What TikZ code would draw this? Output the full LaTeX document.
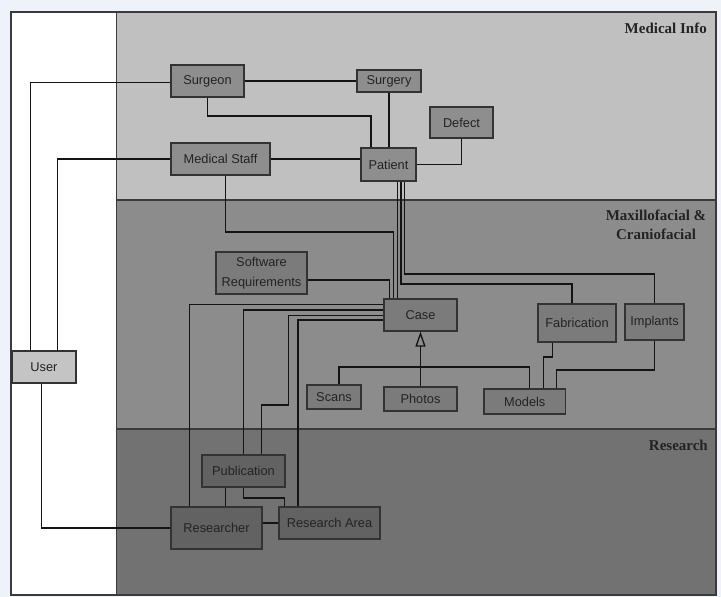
\documentclass[tikz,border=0pt]{standalone}
\usepackage{fontspec}
\setmainfont{Liberation Sans}
\newfontfamily\labfont{Liberation Serif}
\usetikzlibrary{arrows.meta,calc}
\definecolor{bgc}{HTML}{EEF2F9}
\definecolor{medp}{HTML}{C0C0C0}
\definecolor{maxp}{HTML}{8C8C8C}
\definecolor{resp}{HTML}{727272}
\definecolor{medn}{HTML}{8E8E8E}
\definecolor{maxn}{HTML}{7B7B7B}
\definecolor{resn}{HTML}{626262}
\definecolor{usern}{HTML}{C4C4C4}
\definecolor{boxline}{HTML}{333333}
\definecolor{linec}{HTML}{141414}
\definecolor{txt}{HTML}{232323}
\definecolor{framec}{HTML}{3A3A3A}
\begin{document}
\begin{tikzpicture}[x=1pt,y=-1pt,
  box/.style={draw=boxline, line width=1.2pt, inner sep=0pt, align=center,
    font=\fontsize{12.8}{20}\selectfont, text=txt},
  medbox/.style={box, fill=medn},
  maxbox/.style={box, fill=maxn},
  resbox/.style={box, fill=resn},
  userbox/.style={box, fill=usern},
  conn/.style={draw=linec, line width=1.5pt},
  lab/.style={font=\labfont\bfseries\fontsize{15}{19}\selectfont, text=txt, align=center, inner sep=0pt}]
\useasboundingbox (0,0) rectangle (721,597);
% background and panels
\fill[bgc] (0,0) rectangle (721,597);
\fill[white] (11,12) rectangle (116,595);
\fill[medp] (116,12) rectangle (716,200);
\fill[maxp] (116,200) rectangle (716,429);
\fill[resp] (116,429) rectangle (716,595);
\draw[framec, line width=1.4pt] (116,200) -- (716,200);
\draw[framec, line width=1.4pt] (116,429) -- (716,429);
\draw[framec, line width=1pt] (116,12) -- (116,595);
\draw[framec, line width=1.2pt] (11,12) rectangle (716,595);
% panel labels
\node[lab, anchor=east] (labmed) at (707,28.5) {Medical Info};
\node[lab] (labmax) at (656,225) {Maxillofacial \&\\Craniofacial};
\node[lab, anchor=east] (labres) at (708,445) {Research};
% nodes
\node[medbox, minimum width=73pt, minimum height=32pt] (surgeon) at (207.5,81) {Surgeon};
\node[medbox, minimum width=64pt, minimum height=22pt] (surgery) at (389,81) {Surgery};
\node[medbox, minimum width=63pt, minimum height=31pt] (defect) at (461.5,122.5) {Defect};
\node[medbox, minimum width=99pt, minimum height=32pt] (medstaff) at (220.5,159) {Medical Staff};
\node[medbox, minimum width=55pt, minimum height=33pt] (patient) at (388.5,164.5) {Patient};
\node[maxbox, minimum width=91pt, minimum height=42pt] (softreq) at (261.5,273) {Software\\Requirements};
\node[maxbox, minimum width=73pt, minimum height=32pt] (case) at (420.5,315) {Case};
\node[maxbox, minimum width=78pt, minimum height=38pt] (fabrication) at (577,323) {Fabrication};
\node[maxbox, minimum width=59pt, minimum height=36pt] (implants) at (654.5,322) {Implants};
\node[maxbox, minimum width=54pt, minimum height=24pt] (scans) at (334,397) {Scans};
\node[maxbox, minimum width=73pt, minimum height=24pt] (photos) at (420.5,399) {Photos};
\node[maxbox, minimum width=81.5pt, minimum height=25pt] (models) at (524.75,401.5) {Models};
\node[userbox, minimum width=64pt, minimum height=32pt] (user) at (44,367) {User};
\node[resbox, minimum width=83pt, minimum height=32pt] (publication) at (243.5,471) {Publication};
\node[resbox, minimum width=91pt, minimum height=42pt] (researcher) at (216.5,528) {Researcher};
\node[resbox, minimum width=101pt, minimum height=32pt] (researcharea) at (329.5,523) {Research Area};
% connectors: user
\draw[conn] ($(user.north)+(-13.75,0)$) |- ($(surgeon.west)+(0,1.5)$);
\draw[conn] ($(user.north)+(13.5,0)$) |- (medstaff.west);
\draw[conn] ($(user.south)+(-2.5,0)$) |- (researcher.west);
% medical info
\draw[conn] (surgeon.east) -- (surgery.west);
\draw[conn] (surgeon.south) -- (207.5,116) -- (371,116) -- ($(patient.north)+(-17.5,0)$);
\draw[conn] (surgery.south) -- (surgery.south |- patient.north);
\draw[conn] (medstaff.east) -- (medstaff.east -| patient.west);
\draw[conn] (patient.east) -| (defect.south);
% to case and beyond
\draw[conn] ($(medstaff.south)+(5,0)$) |- (393.5,232) -- ($(case.north)+(-27,0)$);
\draw[conn] ($(softreq.east)+(0,7)$) -| ($(case.north)+(-31,0)$);
\draw[conn] ($(patient.south)+(9,0)$) -- ($(case.north)+(-23,0)$);
\draw[conn] ($(patient.south)+(12.5,0)$) |- (572,284) -- ($(fabrication.north)+(-5,0)$);
\draw[conn] ($(patient.south)+(16,0)$) |- (654.5,274) -- (implants.north);
% case to research
\draw[conn] ($(case.west)+(0,-10.5)$) -| ($(researcher.north)+(-27,0)$);
\draw[conn] ($(case.west)+(0,-5)$) -| (publication.north);
\draw[conn] ($(case.west)+(0,0.7)$) -- (288.5,315.7) -- (288.5,405) -- (261.5,405) -- ($(publication.north)+(18,0)$);
\draw[conn] ($(case.west)+(0,5)$) -| ($(researcharea.north)+(-31.5,0)$);
% research
\draw[conn] ($(publication.south)+(-18,0)$) -- ($(researcher.north)+(9,0)$);
\draw[conn] (publication.south) |- (284.5,498) -- ($(researcharea.north)+(-45,0)$);
\draw[conn] (researcharea.west) -- (researcharea.west -| researcher.east);
% generalisation and models
\draw[conn, -{Triangle[open, length=15pt, width=10pt, line width=1.3pt]}] (photos.north) -- (case.south);
\draw[conn] ($(scans.north)+(5,0)$) |- (529.5,367) -- ($(models.north)+(4.75,0)$);
\draw[conn] ($(fabrication.south)+(-24.5,0)$) -- (552.5,357) -- (543.5,357) -- ($(models.north)+(18.75,0)$);
\draw[conn] (implants.south) |- (556.5,370) -- ($(models.north)+(31.75,0)$);
\end{tikzpicture}
\end{document}
